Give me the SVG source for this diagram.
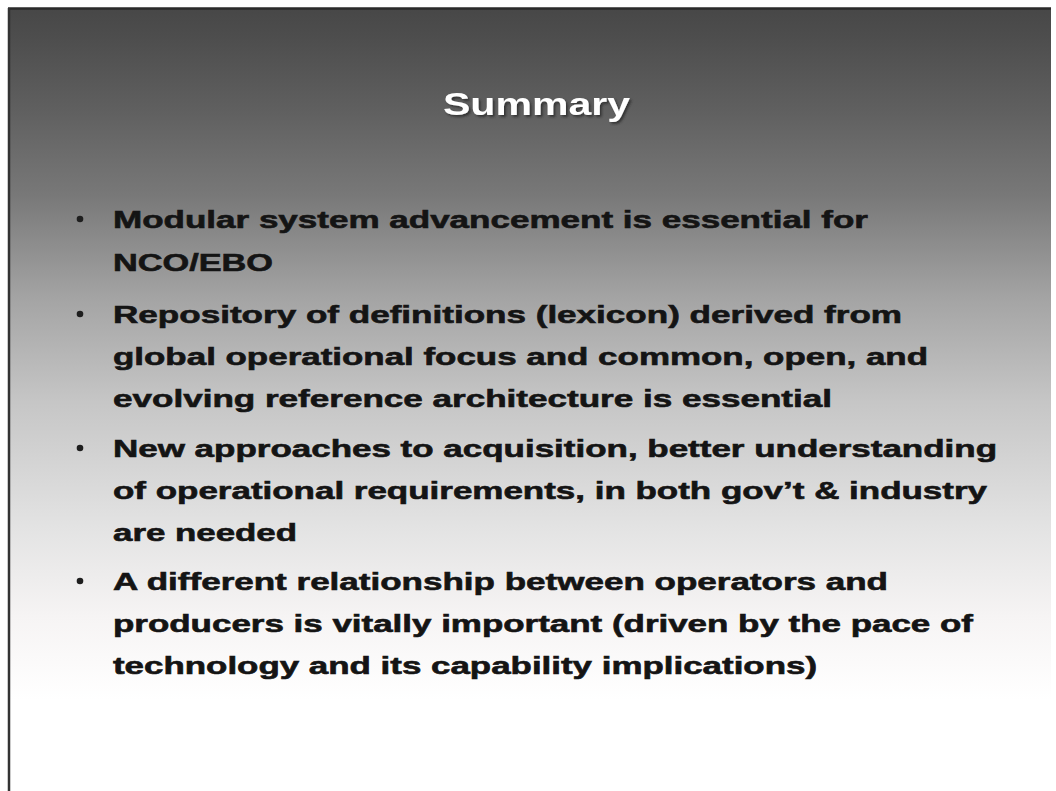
<svg xmlns="http://www.w3.org/2000/svg" width="1056" height="791" viewBox="0 0 1056 791">
<defs>
<linearGradient id="bg" x1="0" y1="8" x2="0" y2="700" gradientUnits="userSpaceOnUse">
<stop offset="0" stop-color="#474747"/>
<stop offset="0.04" stop-color="#4d4d4d"/>
<stop offset="0.15" stop-color="#606060"/>
<stop offset="0.27" stop-color="#787878"/>
<stop offset="0.42" stop-color="#a4a4a4"/>
<stop offset="0.57" stop-color="#c6c6c6"/>
<stop offset="0.75" stop-color="#e3e3e3"/>
<stop offset="0.88" stop-color="#f6f4f4"/>
<stop offset="1" stop-color="#ffffff"/>
</linearGradient>
<filter id="sh" x="-10%" y="-20%" width="120%" height="140%">
<feGaussianBlur in="SourceAlpha" stdDeviation="1.2"/>
<feOffset dx="1.5" dy="1.5" result="b"/>
<feFlood flood-color="#2a2a2a" flood-opacity="0.8"/>
<feComposite in2="b" operator="in"/>
<feMerge><feMergeNode/><feMergeNode in="SourceGraphic"/></feMerge>
</filter>
</defs>
<style>
.t{font-family:"Liberation Sans",Arial,sans-serif;font-weight:bold;font-size:24px;fill:#141414;stroke:#141414;stroke-width:0.6px}
.ti{font-family:"Liberation Sans",Arial,sans-serif;font-weight:bold;font-size:32px;fill:#ffffff}
.b{fill:#1e1e1e}
</style>
<rect x="0" y="0" width="1056" height="791" fill="#ffffff"/>
<g id="slide">
<rect x="8" y="8" width="1043" height="790" fill="url(#bg)"/>
<line x1="8" y1="8.5" x2="1051" y2="8.5" stroke="#2a2a2a" stroke-width="2.5"/>
<line x1="9" y1="8" x2="9" y2="791" stroke="#333333" stroke-width="2.5"/>
</g>
<g id="title">
<text class="ti" x="443" y="115" textLength="187" lengthAdjust="spacingAndGlyphs" filter="url(#sh)">Summary</text>
</g>
<g id="bullet1">
<circle class="b" cx="80" cy="219" r="3.3"/>
<text class="t" x="113" y="228" textLength="755" lengthAdjust="spacingAndGlyphs">Modular system advancement is essential for</text>
<text class="t" x="113" y="271" textLength="160" lengthAdjust="spacingAndGlyphs">NCO/EBO</text>
</g>
<g id="bullet2">
<circle class="b" cx="80" cy="314" r="3.3"/>
<text class="t" x="113" y="323" textLength="789" lengthAdjust="spacingAndGlyphs">Repository of definitions (lexicon) derived from</text>
<text class="t" x="113" y="365" textLength="815" lengthAdjust="spacingAndGlyphs">global operational focus and common, open, and</text>
<text class="t" x="113" y="407" textLength="719" lengthAdjust="spacingAndGlyphs">evolving reference architecture is essential</text>
</g>
<g id="bullet3">
<circle class="b" cx="80" cy="448" r="3.3"/>
<text class="t" x="113" y="457" textLength="884" lengthAdjust="spacingAndGlyphs">New approaches to acquisition, better understanding</text>
<text class="t" x="113" y="499" textLength="874" lengthAdjust="spacingAndGlyphs">of operational requirements, in both gov’t &amp; industry</text>
<text class="t" x="113" y="541" textLength="184" lengthAdjust="spacingAndGlyphs">are needed</text>
</g>
<g id="bullet4">
<circle class="b" cx="80" cy="581" r="3.3"/>
<text class="t" x="113" y="590" textLength="775" lengthAdjust="spacingAndGlyphs">A different relationship between operators and</text>
<text class="t" x="113" y="632" textLength="860" lengthAdjust="spacingAndGlyphs">producers is vitally important (driven by the pace of</text>
<text class="t" x="113" y="674" textLength="704" lengthAdjust="spacingAndGlyphs">technology and its capability implications)</text>
</g>
</svg>
